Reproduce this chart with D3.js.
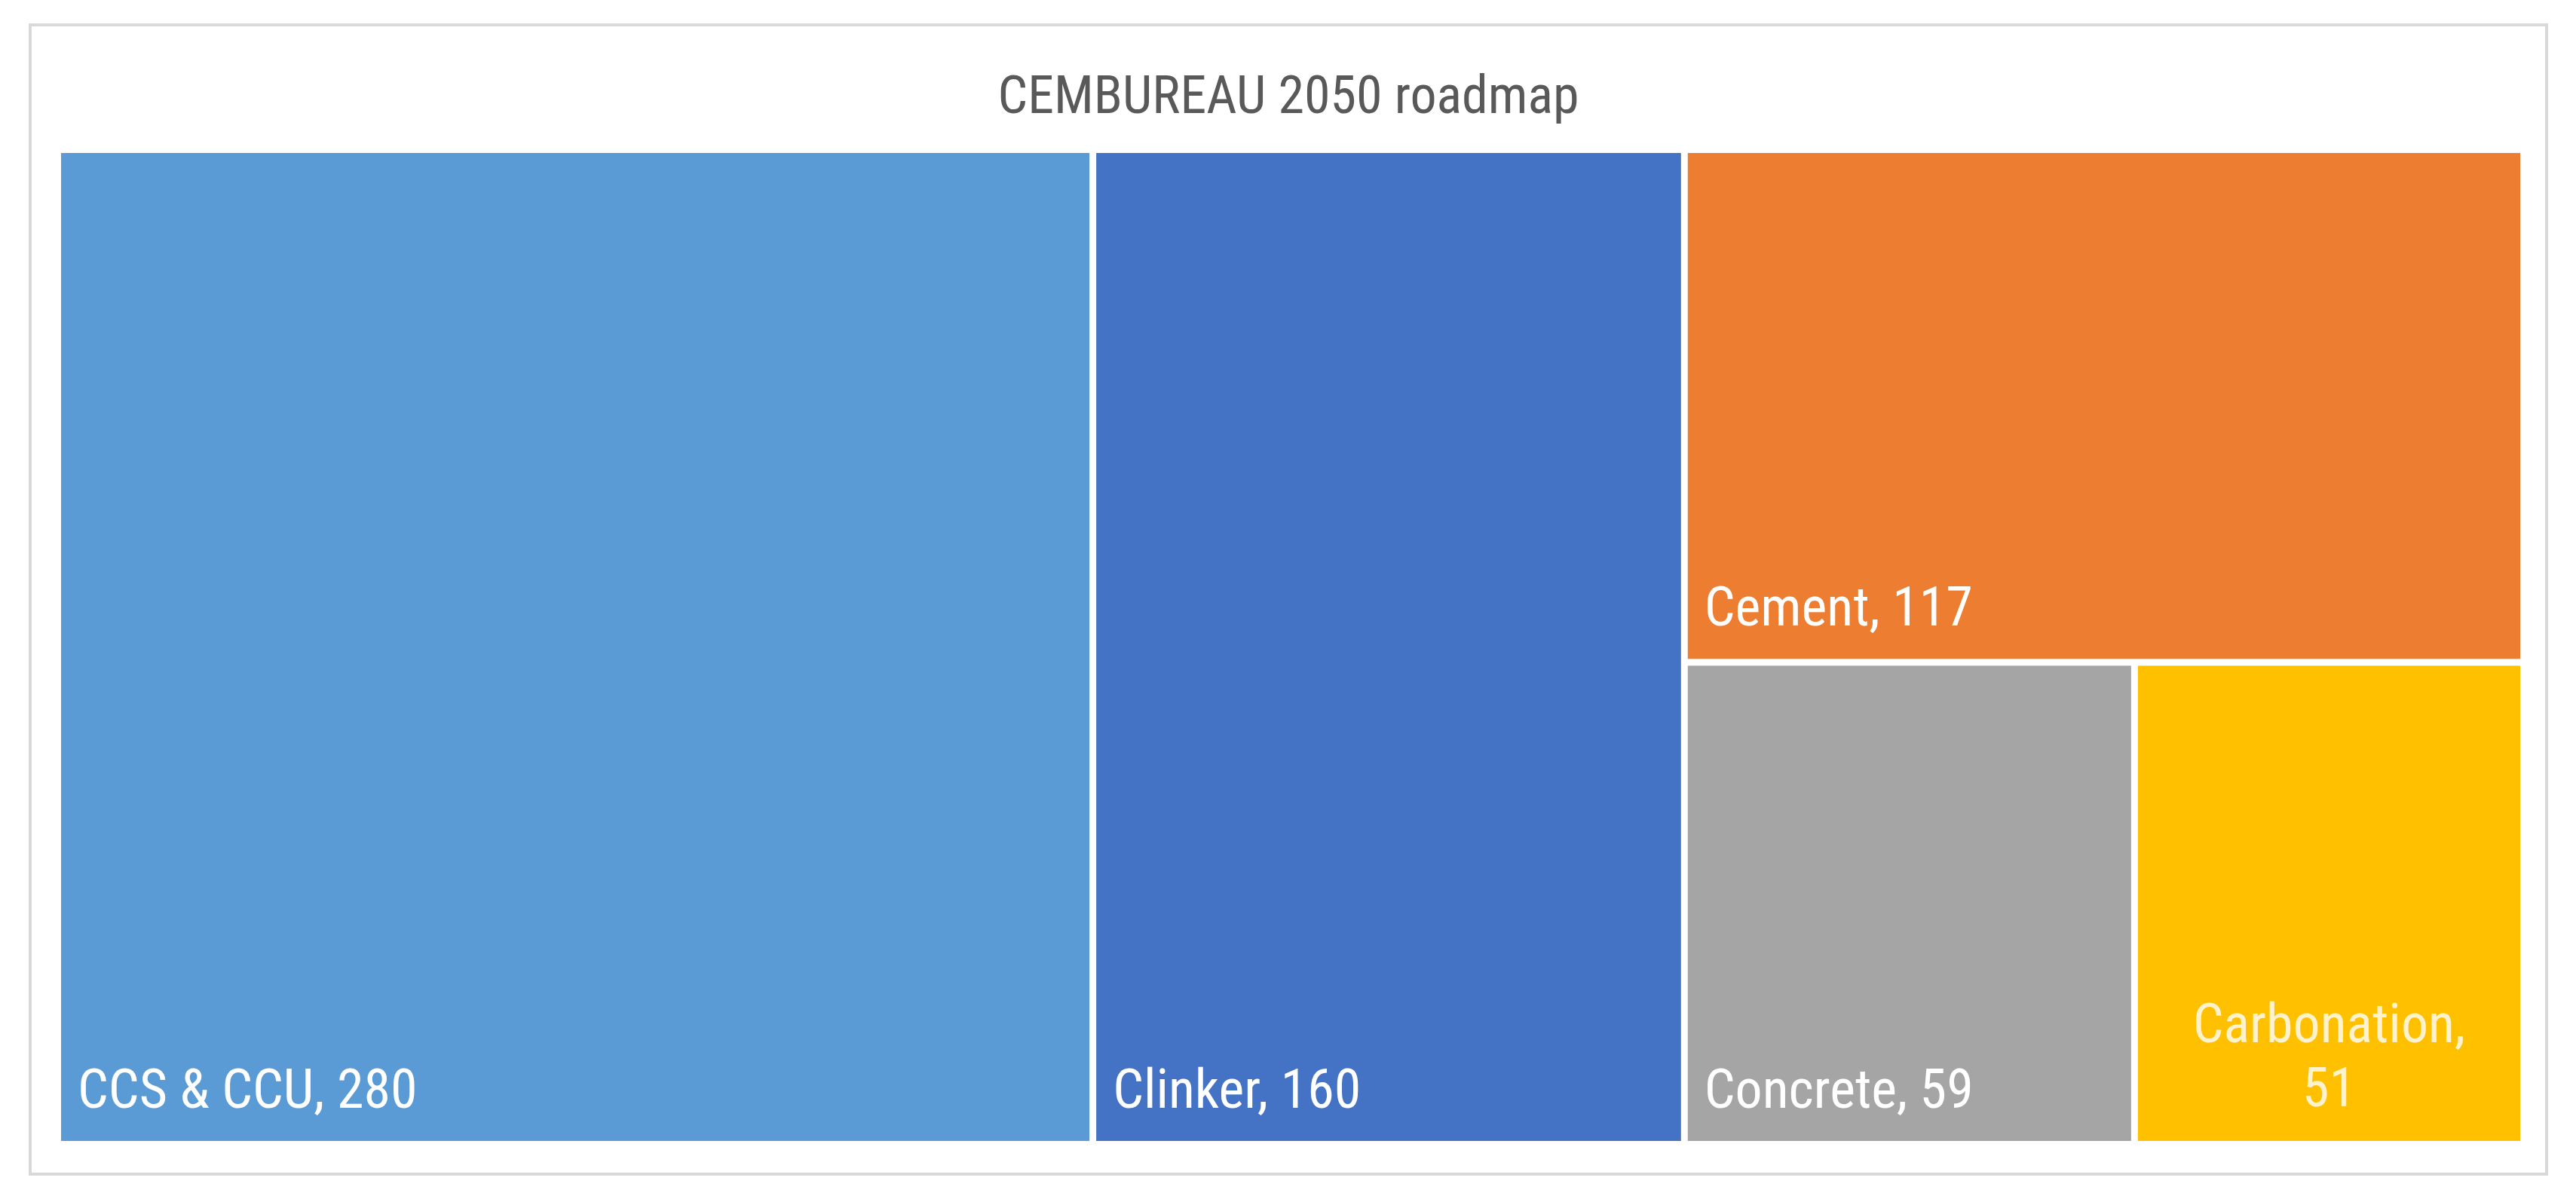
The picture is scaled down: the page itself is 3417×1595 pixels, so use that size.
<!DOCTYPE html>
<html><head><meta charset="utf-8">
<script src="https://cdn.jsdelivr.net/npm/d3@7"></script>
<style>body{margin:0;background:#fff}svg text{font-family:"Liberation Sans Narrow","Roboto Condensed","Open Sans",sans-serif}</style>
</head><body>
<svg id="chart" width="3417" height="1595"></svg>
<script>
var names = ["CCS & CCU", "Clinker", "Cement", "Concrete", "Carbonation"];
var values = [280, 160, 117, 59, 51];
var colors = ["#5B9BD5", "#4472C4", "#ED7D31", "#A5A5A5", "#FFC000"];
var title = "CEMBUREAU 2050 roadmap";

var svg = d3.select("#chart");
svg.append("rect").attr("x", 40).attr("y", 33).attr("width", 3338).attr("height", 1525)
  .attr("fill", "#fff").attr("stroke", "#d9d9d9").attr("stroke-width", 4);
svg.append("text").attr("x", 1709).attr("y", 150).attr("text-anchor", "middle")
  .attr("font-size", 70).attr("fill", "#595959").text(title);

var leaf = i => ({name: names[i], value: values[i], color: colors[i]});
// nesting follows the squarified rows of the original layout
var tree = {children: [leaf(0), leaf(1), {children: [leaf(2), {children: [leaf(3), leaf(4)]}]}]};
var root = d3.hierarchy(tree).sum(d => d.value || 0);
d3.treemap().size([3262, 1311]).paddingInner(9)
  .tile(function(node, x0, y0, x1, y1){
    (node.depth % 2 == 0 ? d3.treemapDice : d3.treemapSlice)(node, x0, y0, x1, y1);
  })(root);

var g = svg.append("g").attr("transform", "translate(81,203)");
var cell = g.selectAll("g").data(root.leaves()).enter().append("g");
cell.append("rect")
  .attr("x", d => d.x0).attr("y", d => d.y0)
  .attr("width", d => d.x1 - d.x0).attr("height", d => d.y1 - d.y0)
  .attr("fill", d => d.data.color);
cell.each(function(d){
  var sel = d3.select(this);
  var fill = d.data.name == "Carbonation" ? "#FFF2CC" : "#fff";
  if (d.data.name == "Carbonation") {
    var t = sel.append("text").attr("text-anchor", "middle").attr("font-size", 72).attr("fill", fill);
    t.append("tspan").attr("x", (d.x0 + d.x1) / 2).attr("y", d.y1 - 131).text(d.data.name + ",");
    t.append("tspan").attr("x", (d.x0 + d.x1) / 2).attr("y", d.y1 - 46).text(d.data.value);
  } else {
    sel.append("text").attr("x", d.x0 + 22).attr("y", d.y1 - 44)
      .attr("font-size", 72).attr("fill", fill).text(d.data.name + ", " + d.data.value);
  }
});
</script>
</body></html>
